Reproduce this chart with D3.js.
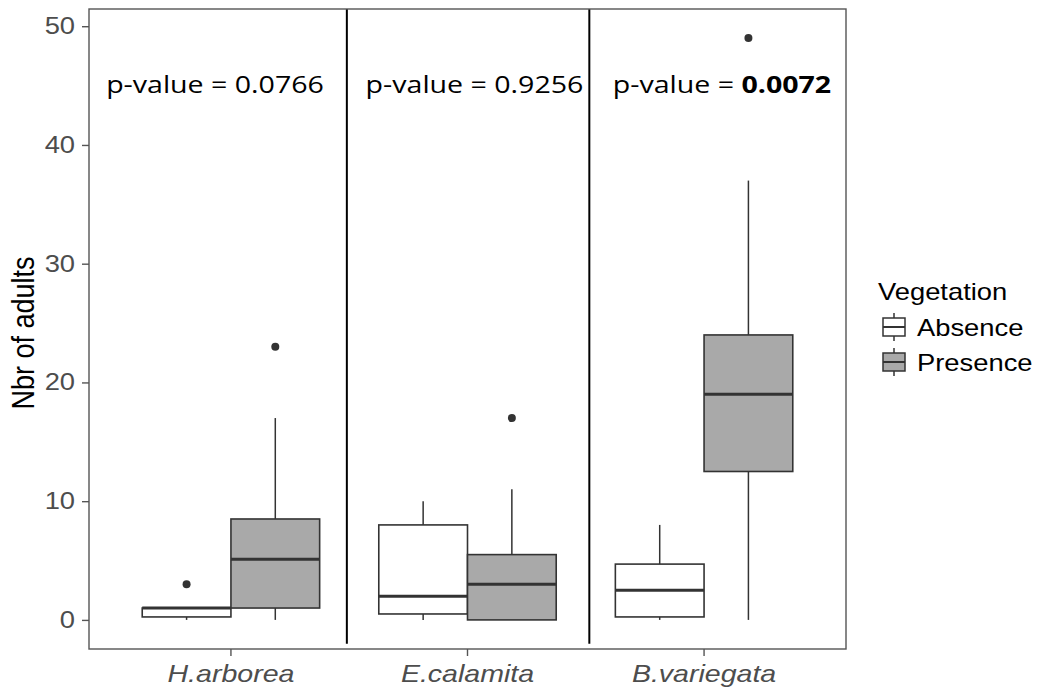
<!DOCTYPE html>
<html><head><meta charset="utf-8">
<script src="https://cdn.jsdelivr.net/npm/d3@7"></script>
<style>body{margin:0;background:#fff}</style>
</head><body>
<svg id="c" width="1038" height="693"></svg>
<script>
const species = ["H.arborea","E.calamita","B.variegata"];
const groups = ["Absence","Presence"];
// [species][group]
const whiskerLow = [[0,0],[0,0],[0,0]];
const q1 =        [[0.25,1],[0.5,0],[0.25,12.5]];
const median =    [[1,5.1],[2,3],[2.5,19]];
const q3 =        [[1,8.5],[8,5.5],[4.7,24]];
const whiskerHigh=[[1,17],[10,11],[8,37]];
const outliers =  [[[3],[23]],[[],[17]],[[],[49]]];
const pLabels = ["0.0766","0.9256","0.0072"];
const pBold = [false,false,true];
const pLabelX = [215,474.5,722];
const separators = [1.49,2.515];
const yTicks = [0,10,20,30,40,50];
const fills = {Absence:"#ffffff",Presence:"#a9a9a9"};

const SX = 1.19; // horizontal stretch of the reference's text
const sans = "'Liberation Sans', Arial, sans-serif";
function stretch(sel, ax){ sel.attr("transform",`translate(${ax},0) scale(${SX},1) translate(${-ax},0)`); }

const svg = d3.select("#c");
const L=89,R=846,T=9,B=649;
const y = d3.scaleLinear().domain([-2.45,51.45]).range([B,T]);
const x = d3.scaleBand().domain(species).range([L,R]).paddingInner(0).paddingOuter(0.1);
const xLin = d3.scaleLinear().domain([0.4,3.6]).range([L,R]);
const xg = d3.scaleBand().domain(groups).range([0,x.bandwidth()*0.75]);
const stroke="#333333";

// boxes
species.forEach((s,i)=>{
  groups.forEach((g,j)=>{
    const x0 = x(s)+x.bandwidth()*0.125+xg(g);
    const w = xg.bandwidth();
    const cx = x0+w/2;
    const gg = svg.append("g");
    gg.append("line").attr("x1",cx).attr("x2",cx).attr("y1",y(q3[i][j])).attr("y2",y(whiskerHigh[i][j])).attr("stroke",stroke).attr("stroke-width",1.5);
    gg.append("line").attr("x1",cx).attr("x2",cx).attr("y1",y(q1[i][j])).attr("y2",y(whiskerLow[i][j])).attr("stroke",stroke).attr("stroke-width",1.5);
    gg.append("rect").attr("x",x0).attr("width",w).attr("y",y(q3[i][j])).attr("height",Math.max(0,y(q1[i][j])-y(q3[i][j])))
      .attr("fill",fills[g]).attr("stroke",stroke).attr("stroke-width",1.6);
    gg.append("line").attr("x1",x0).attr("x2",x0+w).attr("y1",y(median[i][j])).attr("y2",y(median[i][j])).attr("stroke",stroke).attr("stroke-width",3);
    outliers[i][j].forEach(v=>{
      gg.append("circle").attr("cx",cx).attr("cy",y(v)).attr("r",4).attr("fill",stroke);
    });
  });
});

// separators
separators.forEach(v=>{
  svg.append("line").attr("x1",xLin(v)).attr("x2",xLin(v)).attr("y1",y(-2)).attr("y2",T).attr("stroke","#000").attr("stroke-width",2);
});

// p-values
species.forEach((s,i)=>{
  const t = svg.append("text").attr("x",pLabelX[i]).attr("y",93).attr("text-anchor","middle")
    .attr("font-family","'Open Sans', sans-serif").attr("font-size",24).attr("fill","#000");
  t.append("tspan").text("p-value = ");
  t.append("tspan").text(pLabels[i]).attr("font-weight",pBold[i]?"bold":"normal");
  stretch(t, pLabelX[i]);
});

// panel border
svg.append("rect").attr("x",L).attr("y",T).attr("width",R-L).attr("height",B-T).attr("fill","none").attr("stroke","#555").attr("stroke-width",1.4);

// axes
const yAxis = d3.axisLeft(y).tickValues(yTicks).tickSize(7).tickPadding(4.7);
const ya = svg.append("g").attr("transform",`translate(${L},0)`).call(yAxis);
ya.select(".domain").remove();
ya.selectAll("line").attr("stroke","#555").attr("stroke-width",1.4);
ya.selectAll("text").attr("font-family",sans).attr("font-size",23).attr("fill","#4d4d4d")
  .attr("transform",`scale(${SX},1)`);

const xAxis = d3.axisBottom(x).tickSize(7).tickPadding(6);
const xa = svg.append("g").attr("transform",`translate(0,${B})`).call(xAxis);
xa.select(".domain").remove();
xa.selectAll("line").attr("stroke","#555").attr("stroke-width",1.4);
xa.selectAll("text").attr("font-family",sans).attr("font-size",24).attr("font-style","italic").attr("fill","#4d4d4d")
  .attr("y",33).attr("dy",0).attr("transform",`scale(${SX},1)`);

// y title
svg.append("text").attr("transform",`translate(34,${333}) scale(${SX},1) rotate(-90)`).attr("text-anchor","middle")
  .attr("font-family",sans).attr("font-size",27).attr("fill","#000").text("Nbr of adults");

// legend
const lg = svg.append("g");
const lt = lg.append("text").attr("x",878).attr("y",300).attr("font-family",sans).attr("font-size",23).text("Vegetation");
stretch(lt,878);
groups.forEach((g,j)=>{
  const kc = 327 + j*35; // key centre
  const kx = 883, kw = 22;
  const cx = kx+kw/2;
  lg.append("line").attr("x1",cx).attr("x2",cx).attr("y1",kc-14).attr("y2",kc+14).attr("stroke",stroke).attr("stroke-width",1.5);
  lg.append("rect").attr("x",kx).attr("y",kc-9).attr("width",kw).attr("height",18).attr("fill",fills[g]).attr("stroke",stroke).attr("stroke-width",1.5);
  lg.append("line").attr("x1",kx).attr("x2",kx+kw).attr("y1",kc).attr("y2",kc).attr("stroke",stroke).attr("stroke-width",2);
  const tt = lg.append("text").attr("x",917).attr("y",kc+9.5).attr("font-family",sans).attr("font-size",23).text(g);
  stretch(tt,917);
});
</script>
</body></html>
